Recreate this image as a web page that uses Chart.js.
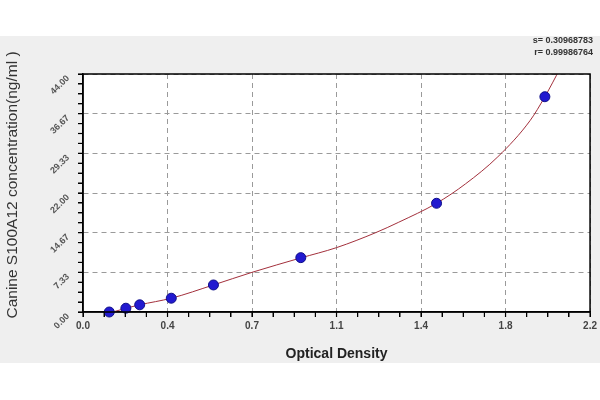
<!DOCTYPE html>
<html>
<head>
<meta charset="utf-8">
<script src="https://cdn.jsdelivr.net/npm/chart.js@4.4.1/dist/chart.umd.min.js"></script>
<style>
body{margin:0;background:#fff}
canvas{display:block}
</style>
</head>
<body>
<canvas id="chart" width="600" height="400"></canvas>
<script>
// standards
let odValues=[0.114,0.186,0.246,0.383,0.566,0.945,1.534,2.004]
let concValues=[0,0.7,1.33,2.55,5.0,10.05,20.1,39.8]

// fitted curve
let curveOD=[0.13,0.186,0.246,0.383,0.566,0.733,0.945,1.1,1.27,1.37,1.534,1.66,1.8,1.94,2.004,2.07]
let curveConc=[0,0.7,1.33,2.55,5.0,7.33,10.0,11.9,14.67,16.6,20.1,23.7,28.7,35.4,39.8,45]

let xTickValues=[0,0.3667,0.7333,1.1,1.4667,1.8333,2.2]
let xTickLabels=["0.0","0.4","0.7","1.1","1.4","1.8","2.2"]
let yTickValues=[0,7.333,14.667,22,29.333,36.667,44]
let yTickLabels=["0.00","7.33","14.67","22.00","29.33","36.67","44.00"]

let fitText=["s= 0.30968783","r= 0.99986764"]
let xTitle="Optical Density"
let yTitle="Canine S100A12 concentration(ng/ml )"

function withMinors(values){
let ticks=[]
for(let i=0;i<values.length;i++){
ticks.push({value:values[i],label:i})
if(i<values.length-1){
let step=(values[i+1]-values[i])/4
for(let k=1;k<4;k++) ticks.push({value:values[i]+step*k,minor:true})
}
}
return ticks
}

function gridColor(c){
if(!c.tick||c.tick.minor) return "rgba(0,0,0,0)"
if(c.index===0) return "rgba(0,0,0,0)"
return "#9a9a9a"
}

let frame={
id:"frame",
beforeDraw(chart){
let ctx=chart.ctx
let a=chart.chartArea
ctx.save()
ctx.fillStyle="#ffffff"
ctx.fillRect(0,0,600,400)
ctx.fillStyle="#efefef"
ctx.fillRect(0,36,600,327)
ctx.fillStyle="#ffffff"
ctx.fillRect(a.left,a.top,a.right-a.left,a.bottom-a.top)
ctx.restore()
},
afterDraw(chart){
let ctx=chart.ctx
let a=chart.chartArea
let x=chart.scales.x
let y=chart.scales.y
ctx.save()

// tick marks outside the axes
ctx.strokeStyle="#000000"
ctx.lineWidth=1.2
x.ticks.forEach(t=>{
let px=x.getPixelForValue(t.value)
ctx.beginPath()
ctx.moveTo(px,a.bottom)
ctx.lineTo(px,a.bottom+5)
ctx.stroke()
})
y.ticks.forEach(t=>{
let py=y.getPixelForValue(t.value)
ctx.beginPath()
ctx.moveTo(a.left,py)
ctx.lineTo(a.left-5,py)
ctx.stroke()
})

ctx.lineWidth=1.5
ctx.strokeRect(a.left,a.top,a.right-a.left,a.bottom-a.top)

// y tick labels, slanted
ctx.fillStyle="#555"
ctx.font="bold 9px 'Liberation Sans', Arial, sans-serif"
ctx.textAlign="right"
ctx.textBaseline="middle"
yTickValues.forEach((v,i)=>{
let py=y.getPixelForValue(v)
ctx.save()
ctx.translate(a.left-15,py+3)
ctx.rotate(-Math.PI/4)
ctx.fillText(yTickLabels[i],0,0)
ctx.restore()
})

// fit statistics
ctx.fillStyle="#333"
ctx.font="bold 9px 'Liberation Sans', Arial, sans-serif"
ctx.textAlign="right"
ctx.fillText(fitText[0],593,41)
ctx.fillText(fitText[1],593,53)

// axis titles
ctx.fillStyle="#222"
ctx.font="bold 14px 'Liberation Sans', Arial, sans-serif"
ctx.textAlign="center"
ctx.fillText(xTitle,(a.left+a.right)/2,354)

ctx.fillStyle="#333"
ctx.font="15.5px 'Liberation Sans', Arial, sans-serif"
ctx.translate(13,185)
ctx.rotate(-Math.PI/2)
ctx.fillText(yTitle,0,0)
ctx.restore()
}
}

let ctx=document.getElementById("chart").getContext("2d")

let chart=new Chart(ctx,{
type:"scatter",
data:{
datasets:[{
type:"line",
data:curveOD.map((x,i)=>({x:x,y:curveConc[i]})),
borderColor:"#a3303c",
borderWidth:1,
pointRadius:0,
cubicInterpolationMode:"monotone",
fill:false,
order:2
},{
data:odValues.map((x,i)=>({x:x,y:concValues[i]})),
backgroundColor:"#2219d0",
borderColor:"#10108a",
borderWidth:1,
pointRadius:5,
clip:false,
order:1
}]
},
plugins:[frame],
options:{
responsive:false,
animation:false,
events:[],
layout:{padding:{top:74,right:9,left:0,bottom:0}},
plugins:{legend:{display:false},tooltip:{enabled:false}},
scales:{
x:{
type:"linear",
min:0,
max:2.2,
afterBuildTicks(scale){scale.ticks=withMinors(xTickValues)},
afterFit(scale){scale.height=88},
ticks:{
autoSkip:false,
maxRotation:0,
padding:3,
color:"#444",
font:{size:10,weight:"bold",family:"'Liberation Sans', Arial, sans-serif"},
callback:function(value,index,ticks){
let t=ticks[index]
return t.minor?"":xTickLabels[t.label]
}
},
grid:{
color:gridColor,
lineWidth:1,
tickColor:"#000",
tickLength:5,
drawTicks:true
},
border:{display:true,color:"#000",width:1.5,dash:[5,4]}
},
y:{
type:"linear",
min:0,
max:44,
afterBuildTicks(scale){scale.ticks=withMinors(yTickValues)},
afterFit(scale){scale.width=83},
ticks:{display:false,autoSkip:false},
grid:{
color:gridColor,
lineWidth:1,
tickColor:"#000",
tickLength:5,
drawTicks:true
},
border:{display:true,color:"#000",width:1.5,dash:[5,4]}
}
}
}
})
</script>
</body>
</html>
